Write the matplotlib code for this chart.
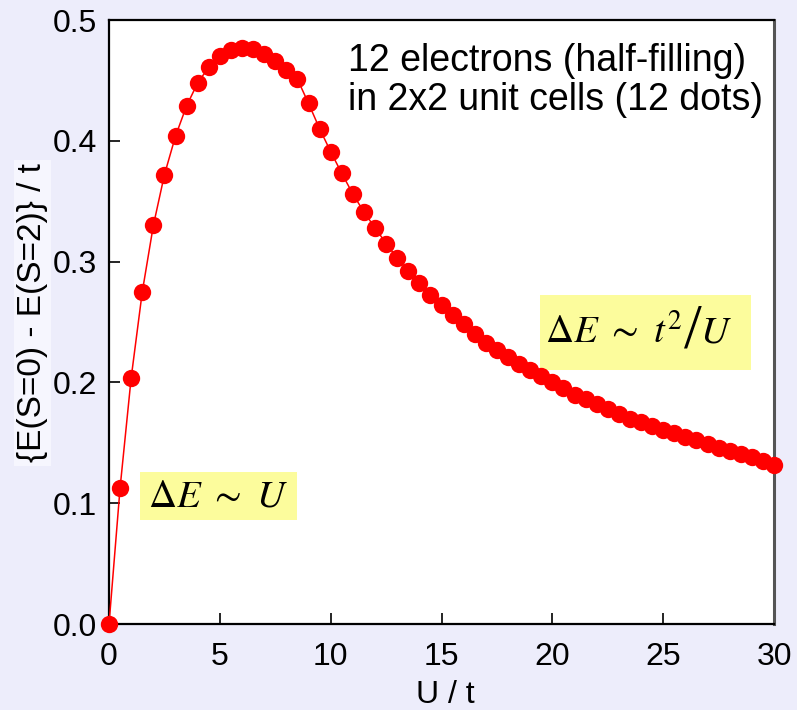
import matplotlib
matplotlib.use("Agg")
from matplotlib import pyplot
from matplotlib.patches import Rectangle
import numpy

# U/t from 0 to 30 in steps of 0.5
u_values = numpy.arange(0, 30.5, 0.5)
gap_values = [
    0.000, 0.113, 0.204, 0.275, 0.330, 0.372, 0.404, 0.429, 0.448, 0.461,
    0.470, 0.475, 0.477, 0.476, 0.472, 0.466, 0.459, 0.451, 0.431, 0.410,
    0.391, 0.373, 0.356, 0.341, 0.328, 0.315, 0.303, 0.292, 0.282, 0.272,
    0.264, 0.256, 0.248, 0.240, 0.233, 0.227, 0.221, 0.215, 0.210, 0.205,
    0.200, 0.195, 0.190, 0.186, 0.182, 0.178, 0.174, 0.170, 0.167, 0.164,
    0.161, 0.158, 0.155, 0.152, 0.149, 0.146, 0.143, 0.141, 0.138, 0.135,
    0.132,
]
x_ticks = [0, 5, 10, 15, 20, 25, 30]
y_ticks = [0.0, 0.1, 0.2, 0.3, 0.4, 0.5]

pyplot.rcParams['font.family'] = ['Liberation Sans', 'DejaVu Sans']
pyplot.rcParams['mathtext.fontset'] = 'stix'

bg = '#EDEDFB'
yellow = '#FCFC9C'

fig = pyplot.figure(figsize=(7.97, 7.10), dpi=100, facecolor=bg)
ax = fig.add_axes([0.1368, 0.1211, 0.9712 - 0.1368, 0.9718 - 0.1211])
ax.set_facecolor('white')

ax.plot(u_values, gap_values, color='red', lw=1.1, marker='o',
        markersize=12.5, markeredgewidth=0, clip_on=False, zorder=3)

ax.set_xlim(0, 30)
ax.set_ylim(0, 0.5)
ax.set_xticks(x_ticks)
ax.set_yticks(y_ticks)
ax.set_xticklabels([str(t) for t in x_ticks])
ax.set_yticklabels([f"{t:.1f}" for t in y_ticks])
ax.tick_params(direction='in', length=8, width=1.2, labelsize=23,
               top=False, right=False)
ax.tick_params(axis='x', pad=13)
ax.tick_params(axis='y', pad=8.5)

for side in ['left', 'bottom', 'top']:
    ax.spines[side].set_linewidth(1.6)
    ax.spines[side].set_color('black')
ax.spines['right'].set_linewidth(2.2)
ax.spines['right'].set_color('#555555')

ax.set_xlabel('U / t', fontsize=23)
ax.xaxis.set_label_coords(0.505, -0.093)
ax.set_ylabel('{E(S=0) - E(S=2)} / t', fontsize=24,
              bbox=dict(boxstyle='square,pad=0.1', fc='#F6F6FE', ec='none'))
ax.yaxis.set_label_coords(-0.092, 0.515)

ax.text(0.3594, 0.8995, '12 electrons (half-filling)\nin 2x2 unit cells (12 dots)',
        transform=ax.transAxes, fontsize=27, ha='left', va='center',
        linespacing=1.12)

# linear regime at small U
ax.add_patch(Rectangle((0.0466, 0.172), 0.2361, 0.0797, transform=ax.transAxes,
                       fc=yellow, ec='none', zorder=2))
ax.text(0.1647, 0.2105, r'$\Delta E\ \sim\ U$', transform=ax.transAxes,
        fontsize=28, ha='center', va='center', zorder=4)

# superexchange regime at large U
ax.add_patch(Rectangle((0.648, 0.4205), 0.317, 0.1242, transform=ax.transAxes,
                       fc=yellow, ec='none', zorder=2))
lhs = ax.text(0.6556, 0.482, r'$\Delta E\ \sim\ t^{2}$', transform=ax.transAxes,
              fontsize=28, ha='left', va='center', zorder=4)
slash = ax.annotate('/', xy=(1, 0.5), xycoords=lhs, xytext=(1, 0),
                    textcoords='offset points', fontsize=46, ha='left',
                    va='center', family='Liberation Serif', zorder=4)
ax.annotate(r'$U$', xy=(1, 0.5), xycoords=slash, xytext=(-1, 0),
            textcoords='offset points', fontsize=28, ha='left', va='center',
            zorder=4)

fig.savefig('out.png', dpi=100, facecolor=bg)
pyplot.close(fig)
